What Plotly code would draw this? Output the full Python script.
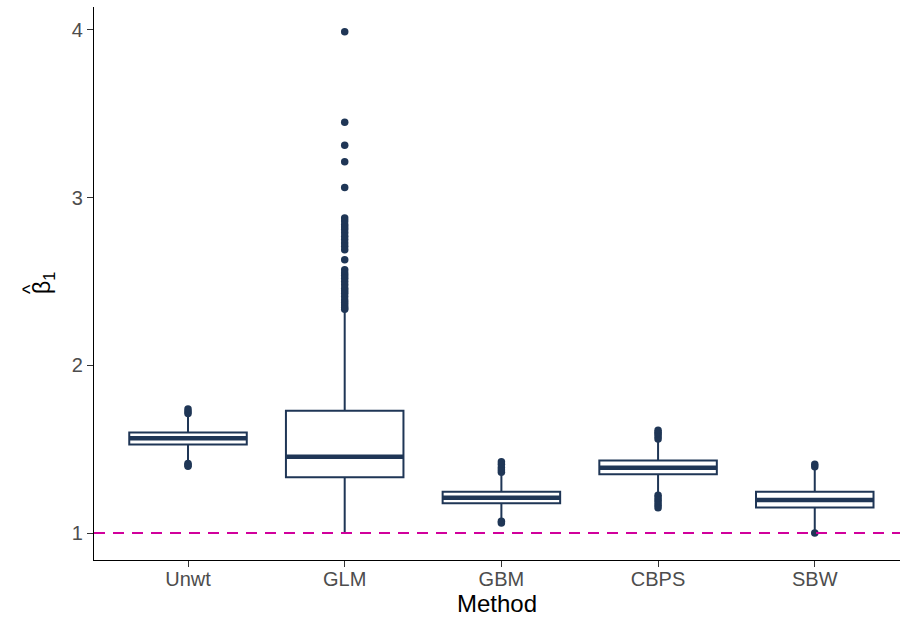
import plotly.graph_objects as go

# ---- data ----
methods = ["Unwt", "GLM", "GBM", "CBPS", "SBW"]
q1 = [1.528, 1.332, 1.177, 1.350, 1.152]
medians = [1.565, 1.455, 1.210, 1.389, 1.197]
q3 = [1.600, 1.729, 1.246, 1.432, 1.246]
lower_whisker = [1.425, 0.995, 1.080, 1.235, 1.015]
upper_whisker = [1.700, 2.320, 1.345, 1.545, 1.385]

outliers_unwt = [1.712, 1.725, 1.740, 1.415, 1.405, 1.398]
outliers_glm = [3.989, 3.449, 3.312, 3.214, 3.061,
                2.878, 2.860, 2.840, 2.825, 2.810, 2.790, 2.770, 2.750, 2.730, 2.710, 2.690,
                2.630,
                2.570, 2.550, 2.535, 2.520, 2.500, 2.480, 2.460, 2.445, 2.430, 2.410,
                2.390, 2.375, 2.360, 2.345, 2.335]
outliers_gbm = [1.362, 1.375, 1.390, 1.410, 1.425, 1.070, 1.060]
outliers_cbps = [1.560, 1.575, 1.590, 1.600, 1.613, 1.225, 1.210, 1.195, 1.180, 1.165, 1.150]
outliers_sbw = [1.395, 1.410, 1.000]
outliers = [outliers_unwt, outliers_glm, outliers_gbm, outliers_cbps, outliers_sbw]

reference_value = 1.0

# ---- styling ----
navy = "#1F3656"
magenta = "#D1009C"

fig = go.Figure()

for i, m in enumerate(methods):
    fig.add_trace(go.Box(
        x=[m], q1=[q1[i]], median=[medians[i]], q3=[q3[i]],
        lowerfence=[lower_whisker[i]], upperfence=[upper_whisker[i]],
        fillcolor="white", line=dict(color=navy, width=2),
        width=0.75, whiskerwidth=0, boxpoints=False, showlegend=False,
        hoverinfo="skip"))

# thick median bars (ggplot fatten)
for i, m in enumerate(methods):
    fig.add_trace(go.Box(
        x=[m], q1=[medians[i]], median=[medians[i]], q3=[medians[i]],
        lowerfence=[medians[i]], upperfence=[medians[i]],
        fillcolor=navy, line=dict(color=navy, width=4.5),
        width=0.75, whiskerwidth=0, boxpoints=False, showlegend=False,
        hoverinfo="skip"))

for i, m in enumerate(methods):
    fig.add_trace(go.Scatter(
        x=[m] * len(outliers[i]), y=outliers[i], mode="markers",
        marker=dict(color=navy, size=7.5, line=dict(width=0)),
        showlegend=False, hoverinfo="skip"))

fig.add_shape(type="line", xref="paper", x0=0, x1=1, yref="y",
              y0=reference_value, y1=reference_value,
              line=dict(color=magenta, width=2, dash="11px,8px"), layer="above")

axis_font = dict(family="Liberation Sans, Arial, sans-serif", size=20, color="#4D4D4D")
title_font = dict(family="Liberation Sans, Arial, sans-serif", size=24, color="black")
ytitle_font = dict(family="Liberation Sans, Arial, sans-serif", size=23, color="black")

# plot area in pixels (for placing the rotated y title)
PLOT_L, PLOT_W, PLOT_B, PLOT_H = 94, 806, 560, 553

def px_to_paper(px, py):
    return (px - PLOT_L) / PLOT_W, (PLOT_B - py) / PLOT_H

# rotated y-axis title: beta with subscript 1, plus a separate hat
bx, by = px_to_paper(43, 283)
fig.add_annotation(
    text="β<sub>1</sub>", textangle=-90, showarrow=False,
    xref="paper", yref="paper", x=bx, y=by,
    xanchor="center", yanchor="middle", font=ytitle_font)
hx, hy = px_to_paper(30, 289)
fig.add_annotation(
    text="^", textangle=-90, showarrow=False,
    xref="paper", yref="paper", x=hx, y=hy,
    xanchor="center", yanchor="middle",
    font=dict(family="Liberation Sans, Arial, sans-serif", size=20, color="black"))

fig.update_layout(
    width=900, height=623,
    margin=dict(l=94, r=0, t=7, b=63),
    paper_bgcolor="white", plot_bgcolor="white",
    boxmode="overlay",
    xaxis=dict(
        type="category", categoryorder="array", categoryarray=methods,
        range=[-0.6, 4.544],
        showline=True, linecolor="black", linewidth=1.3, mirror=False,
        ticks="outside", ticklen=6, tickwidth=1.2, tickcolor="#333333",
        ticklabelstandoff=-5,
        tickfont=axis_font, showgrid=False, zeroline=False,
        title=dict(text="Method", font=title_font, standoff=6),
    ),
    yaxis=dict(
        range=[0.839, 4.137],
        tickvals=[1, 2, 3, 4], ticktext=["1", "2", "3", "4"],
        showline=True, linecolor="black", linewidth=1.3,
        ticks="outside", ticklen=6, tickwidth=1.2, tickcolor="#333333",
        tickfont=axis_font, showgrid=False, zeroline=False,
    ),
)

fig.write_html("out.html", config={"displayModeBar": False},
               post_script="document.body.style.margin='0';document.body.style.padding='0';")
